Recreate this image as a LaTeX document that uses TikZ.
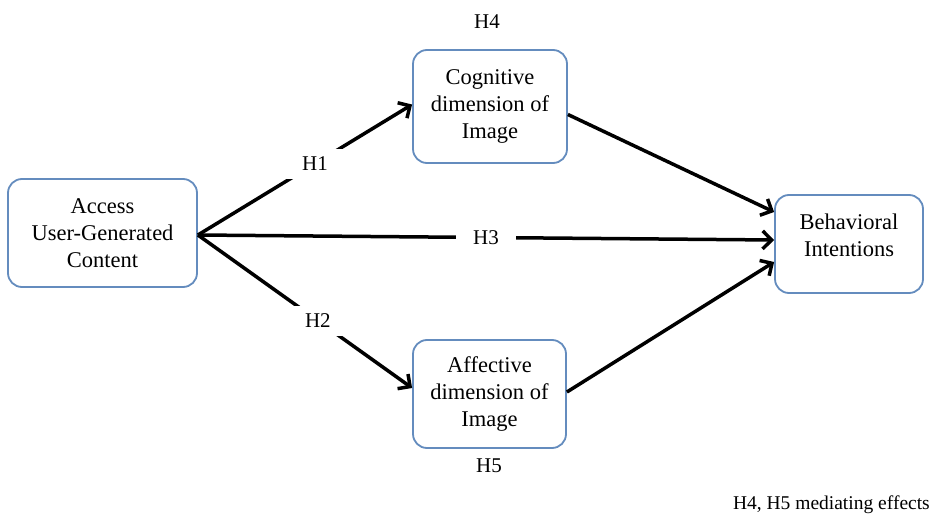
\documentclass[tikz,border=0pt]{standalone}
\usepackage{fontspec}
\setmainfont{Liberation Serif}
\usetikzlibrary{arrows.meta}
\definecolor{boxblue}{RGB}{100,140,190}
\begin{document}
\begin{tikzpicture}[x=1pt,y=-1pt,
  box/.style={draw=boxblue, line width=1.8pt, rounded corners=14pt, fill=white,
    align=center, font=\fontsize{22.5}{27}\selectfont, inner sep=0pt},
  conn/.style={line width=3.5pt, -{Straight Barb[length=9pt,width=18pt,line width=3.5pt]}},
  lbl/.style={fill=white, font=\fontsize{21}{22}\selectfont, minimum width=60pt, minimum height=30pt, inner sep=0pt},
  txt/.style={font=\fontsize{21}{22}\selectfont, inner sep=0pt}]
\useasboundingbox (0,0) rectangle (934,516);
\node[box, minimum width=189pt, minimum height=108pt] (acc) at (102.5,233) {Access\\User-Generated\\Content};
\node[box, minimum width=154pt, minimum height=113pt] (cog) at (490,106.5) {Cognitive\\dimension of\\Image};
\node[box, minimum width=153pt, minimum height=108pt] (aff) at (489.5,394) {Affective\\dimension of\\Image};
\node[box, minimum width=148pt, minimum height=98pt] (beh) at (849,244) {Behavioral\\Intentions\\[-9pt]~};
\draw[conn] ([yshift=-2pt]acc.east) -- node[lbl, pos=0.547] {H1} ([yshift=2pt]cog.west);
\draw[conn] ([yshift=-2pt]acc.east) -- node[lbl, pos=0.56] {H2} ([yshift=6pt]aff.west);
\draw[conn] ([yshift=-2pt]acc.east) -- node[lbl, pos=0.5] {H3} ([yshift=4pt]beh.west);
\draw[conn] ([yshift=-8pt]cog.east) -- ([yshift=32pt]beh.west);
\draw[conn] ([yshift=2pt]aff.east) -- ([yshift=-18pt]beh.west);
\node[txt] (h4) at (487,22) {H4};
\node[txt] (h5) at (489,466) {H5};
\node[txt, anchor=east, font=\fontsize{19.5}{22}\selectfont] (note) at (930,505) {H4, H5 mediating effects};
\end{tikzpicture}
\end{document}
